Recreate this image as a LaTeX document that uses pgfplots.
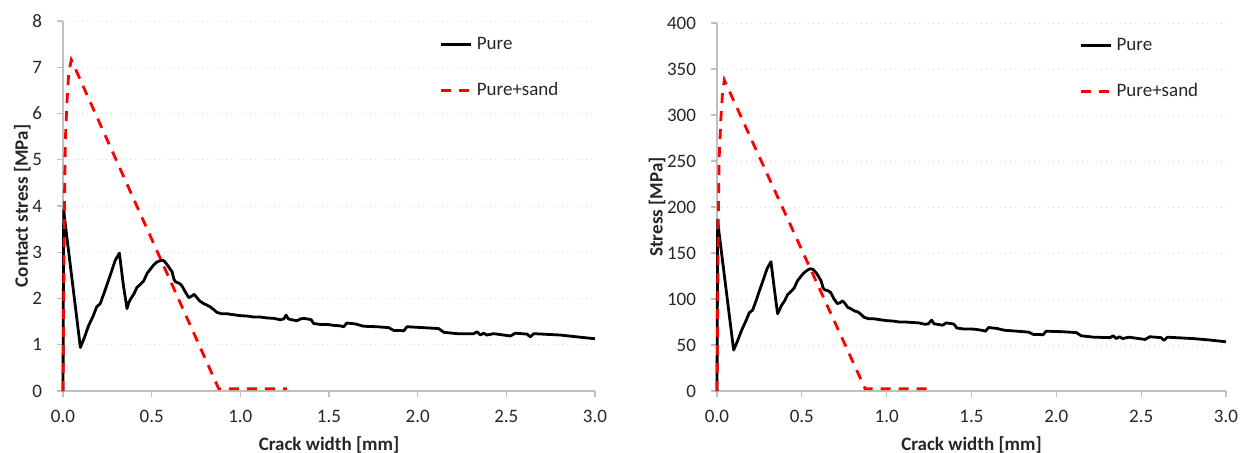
\documentclass[border=0pt]{standalone}
\usepackage{fontspec}
\setmainfont{Carlito}
\usepackage{pgfplots}
\pgfplotsset{compat=1.18}
\definecolor{axgray}{HTML}{BFBFBF}
\definecolor{gridgray}{HTML}{D9D9D9}
\definecolor{txt}{HTML}{262626}
\pgfplotsset{
  excel/.style={
    scale only axis,
    axis x line=bottom, axis y line=left,
    axis line style={axgray, line width=0.6pt, -},
    every tick/.style={axgray, line width=0.6pt},
    tick align=outside, major tick length=3pt,
    xmin=0, xmax=3, xtick={0,0.5,...,3.0},
    x tick label style={/pgf/number format/fixed, /pgf/number format/fixed zerofill, /pgf/number format/precision=1},
    /pgf/number format/assume math mode=true,
    ymajorgrids, grid style={gridgray, dotted, line width=0.5pt},
    tick label style={font=\fontsize{9.5}{11}\selectfont, text=txt},
    label style={font=\bfseries\fontsize{9.5}{11}\selectfont, text=txt},
    xlabel={Crack width [mm]},
    xticklabel style={yshift=-3pt},
    yticklabel style={xshift=-4pt},
    clip=false,
    legend cell align=left,
    legend style={draw=none, fill=none, font=\fontsize{9.5}{11}\selectfont, text=txt,
      anchor=west, row sep=11pt, inner sep=0pt},
    legend image code/.code={\draw[##1] (0pt,0pt) -- (15pt,0pt);},
  },
  pureline/.style={black, line width=1.4pt, line join=round},
  sandline/.style={red, line width=1.4pt, dash pattern=on 5pt off 4pt},
}
\begin{document}
\begin{tikzpicture}
\path[use as bounding box] (0,0) rectangle (625.5pt,226pt);
\begin{axis}[excel, at={(31.5pt,30.5pt)}, anchor=origin,
  width=266pt, height=185pt,
  ymin=0, ymax=8, ytick={0,1,...,8},
  ylabel={Contact stress [MPa]},
  ylabel style={yshift=-6pt},
  legend style={at={(axis description cs:0.708,0.874)}}]
\addplot[pureline] coordinates {
(0,0) (0.004,3.92) (0.01,3.7) (0.098,0.94) (0.12,1.15) (0.145,1.42) (0.17,1.62)
(0.19,1.82) (0.21,1.89) (0.23,2.1) (0.25,2.32) (0.275,2.6) (0.295,2.83) (0.318,2.98)
(0.34,2.3) (0.361,1.78) (0.37,1.9) (0.38,1.98) (0.40,2.1) (0.417,2.24) (0.435,2.3)
(0.455,2.38) (0.475,2.55) (0.492,2.63) (0.51,2.72) (0.53,2.79) (0.55,2.82) (0.568,2.82)
(0.586,2.74) (0.60,2.66) (0.615,2.58) (0.625,2.42) (0.635,2.36) (0.655,2.33) (0.67,2.28)
(0.69,2.14) (0.709,2.02) (0.725,2.05) (0.74,2.09) (0.755,2.02) (0.77,1.95) (0.793,1.89)
(0.81,1.86) (0.83,1.82) (0.85,1.76) (0.868,1.70) (0.895,1.67) (0.925,1.67) (0.96,1.65)
(1.0,1.63) (1.04,1.62) (1.075,1.60) (1.11,1.60) (1.15,1.58) (1.19,1.57) (1.226,1.54)
(1.245,1.56) (1.258,1.64) (1.27,1.56) (1.29,1.54) (1.32,1.52) (1.34,1.56) (1.36,1.57)
(1.39,1.55) (1.40,1.54) (1.413,1.46) (1.45,1.44) (1.489,1.44) (1.526,1.42) (1.56,1.41)
(1.583,1.39) (1.60,1.47) (1.649,1.45) (1.695,1.40) (1.77,1.39) (1.836,1.37) (1.865,1.31)
(1.90,1.31) (1.921,1.30) (1.94,1.39) (2.03,1.37) (2.118,1.35) (2.147,1.27) (2.222,1.24)
(2.316,1.24) (2.335,1.28) (2.354,1.21) (2.372,1.25) (2.39,1.21) (2.428,1.24) (2.523,1.19)
(2.551,1.25) (2.617,1.23) (2.635,1.17) (2.654,1.24) (2.805,1.21) (2.9,1.17) (3.0,1.13)
};
\addlegendentry{Pure}
\addplot[sandline] coordinates {
(0,0) (0.008,4.0) (0.013,5.4) (0.023,6.29) (0.032,6.87) (0.047,7.16) (0.878,0.05) (1.263,0.05)
};
\addlegendentry{Pure+sand}
\end{axis}
\begin{axis}[excel, at={(358.5pt,30.5pt)}, anchor=origin,
  width=254.5pt, height=184pt,
  ymin=0, ymax=400, ytick={0,50,...,400},
  ylabel={Stress [MPa]},
  ylabel style={yshift=-6pt},
  legend style={at={(axis description cs:0.712,0.876)}}]
\addplot[pureline] coordinates {
(0,0) (0.004,186) (0.01,175) (0.098,44.5) (0.12,54) (0.145,66) (0.17,76) (0.19,85)
(0.21,88) (0.23,98) (0.25,109) (0.275,122) (0.295,133) (0.318,140.5) (0.34,108)
(0.357,84) (0.37,89) (0.38,93) (0.40,98.5) (0.417,105) (0.435,108) (0.455,112)
(0.475,120) (0.492,124) (0.51,128) (0.53,131) (0.55,133) (0.568,132) (0.586,128)
(0.60,124) (0.615,119) (0.625,112) (0.635,110) (0.655,109) (0.67,107) (0.69,100)
(0.709,95) (0.725,96) (0.74,98) (0.755,95) (0.77,91) (0.793,89) (0.81,87) (0.83,86)
(0.85,83) (0.868,80) (0.895,78.5) (0.925,78.5) (0.96,77.5) (1.0,76.5) (1.04,76)
(1.075,75) (1.11,75) (1.15,74.5) (1.19,74) (1.226,72.5) (1.245,73) (1.265,77)
(1.28,73) (1.30,72.5) (1.33,71.5) (1.35,74) (1.39,73) (1.40,72) (1.413,68.5)
(1.45,67.5) (1.49,67.5) (1.526,67) (1.56,66) (1.583,65) (1.60,69) (1.649,68)
(1.695,66) (1.77,65) (1.836,64) (1.865,61.5) (1.90,61.5) (1.921,61) (1.94,65)
(2.03,64.5) (2.118,63.5) (2.147,60) (2.222,58.5) (2.316,58) (2.335,60) (2.354,57)
(2.372,59) (2.39,57) (2.428,58.5) (2.523,56) (2.551,59) (2.617,58) (2.635,55)
(2.654,58.5) (2.805,57) (2.9,55.5) (3.0,53.5)
};
\addlegendentry{Pure}
\addplot[sandline] coordinates {
(0,0) (0.008,190) (0.013,255) (0.023,296) (0.032,323) (0.043,338) (0.873,2.5) (1.265,2.5)
};
\addlegendentry{Pure+sand}
\end{axis}
\end{tikzpicture}
\end{document}
